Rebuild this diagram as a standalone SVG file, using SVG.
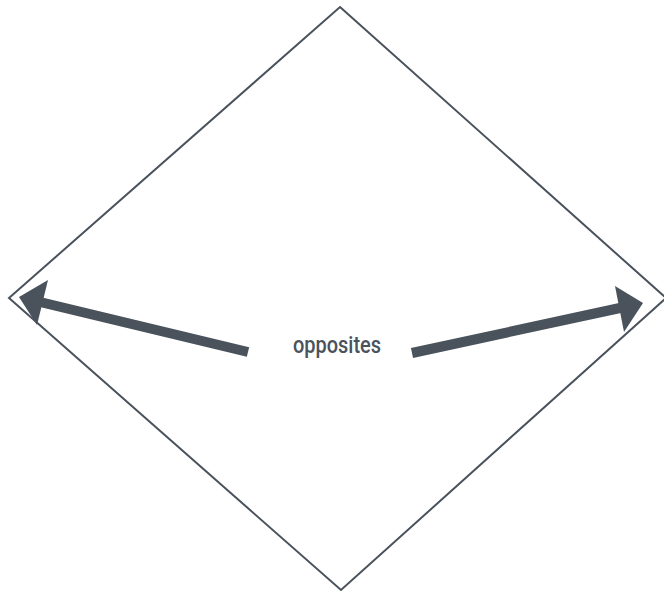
<svg xmlns="http://www.w3.org/2000/svg" width="664" height="593" viewBox="0 0 664 593">
<style>
.edge{fill:none;stroke:#4a525c;stroke-width:2}
.shaft{stroke:#4a525c;stroke-width:10;fill:none}
.head{fill:#4a525c}
.lbl{font-family:Roboto,"Noto Sans",sans-serif;font-size:24px;fill:#4a525c;font-weight:500}
</style>
<rect width="664" height="593" fill="#ffffff"/>
<g id="diamond">
<polygon class="edge" points="340,7 666,298 341,590 9,298"/>
</g>
<g id="connectors">
<line class="shaft" x1="248" y1="352" x2="40" y2="302"/>
<polygon class="head" points="19,297 48,280 37,325"/>
<line class="shaft" x1="412" y1="353" x2="620" y2="308"/>
<polygon class="head" points="643,303 615,286 624,332"/>
</g>
<g id="label">
<text class="lbl" x="337" y="353" text-anchor="middle" textLength="88" lengthAdjust="spacingAndGlyphs">opposites</text>
</g>
</svg>
